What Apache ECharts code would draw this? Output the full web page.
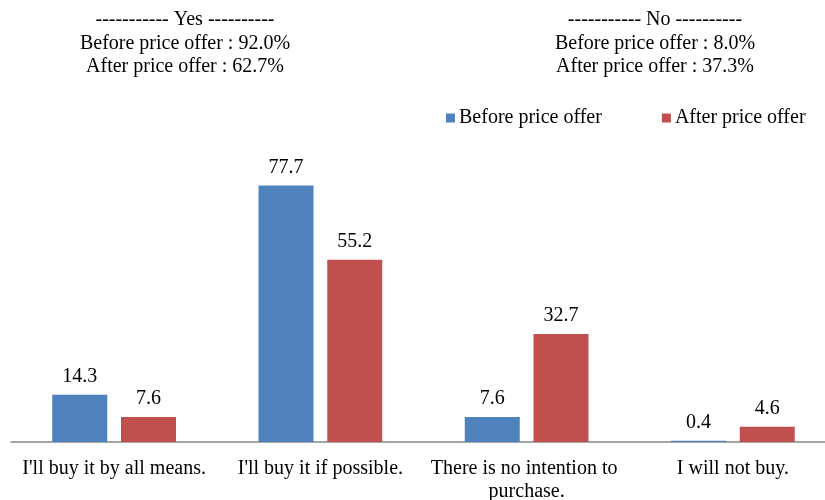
<!DOCTYPE html>
<html>
<head>
<meta charset="utf-8">
<script src="https://cdn.jsdelivr.net/npm/echarts@6/dist/echarts.min.js"></script>
<style>
  html, body { margin: 0; padding: 0; background: #fff; }
  #chart { width: 825px; height: 500px; }
</style>
</head>
<body>
<div id="chart"></div>
<script>
const categories = [
  "I'll buy it by all means.",
  "I'll buy it if possible.",
  'There is no intention to purchase.',
  'I will not buy.',
];
const beforeOffer = [14.3, 77.7, 7.6, 0.4];
const afterOffer = [7.6, 55.2, 32.7, 4.6];
const yesTitle = ['----------- Yes ----------', 'Before price offer : 92.0%', 'After price offer : 62.7%'];
const noTitle = ['----------- No ----------', 'Before price offer : 8.0%', 'After price offer : 37.3%'];

const font = 'Liberation Serif';
const textColor = '#000';

const chart = echarts.init(document.getElementById('chart'));

const titleStyle = {
  fontFamily: font,
  fontSize: 20,
  fontWeight: 'normal',
  color: textColor,
  lineHeight: 23.5,
};

const valueLabel = {
  show: true,
  position: 'top',
  distance: 8,
  fontFamily: font,
  fontSize: 20,
  color: textColor,
  formatter: p => p.value.toFixed(1),
};

chart.setOption({
  animation: false,
  title: [
    { text: yesTitle.join('\n'), left: 185, top: 8, padding: 0, textAlign: 'center', textStyle: titleStyle },
    { text: noTitle.join('\n'), left: 655, top: 8, padding: 0, textAlign: 'center', textStyle: titleStyle },
  ],
  legend: {
    top: 103,
    left: 441,
    itemWidth: 9,
    itemHeight: 9,
    itemGap: 60,
    icon: 'rect',
    textStyle: { fontFamily: font, fontSize: 20, color: textColor, padding: [0, 0, 0, -1] },
    data: ['Before price offer', 'After price offer'],
  },
  grid: { left: 11, right: -11, top: 145, bottom: 58, outerBoundsMode: 'none' },
  xAxis: {
    type: 'category',
    data: categories,
    axisLine: { lineStyle: { color: '#888888', width: 1.5 } },
    axisTick: { show: false },
    axisLabel: {
      fontFamily: font,
      fontSize: 20,
      color: textColor,
      margin: 15,
      lineHeight: 23,
      width: 200,
      overflow: 'break',
      interval: 0,
    },
  },
  yAxis: {
    type: 'value',
    min: 0,
    max: 90,
    show: false,
    splitLine: { show: false },
  },
  series: [
    {
      name: 'Before price offer',
      type: 'bar',
      data: beforeOffer,
      barWidth: 55,
      barGap: '25%',
      itemStyle: { color: '#4F81BD' },
      label: valueLabel,
    },
    {
      name: 'After price offer',
      type: 'bar',
      data: afterOffer,
      barWidth: 55,
      barGap: '25%',
      itemStyle: { color: '#C0504D' },
      label: valueLabel,
    },
  ],
});
</script>
</body>
</html>
